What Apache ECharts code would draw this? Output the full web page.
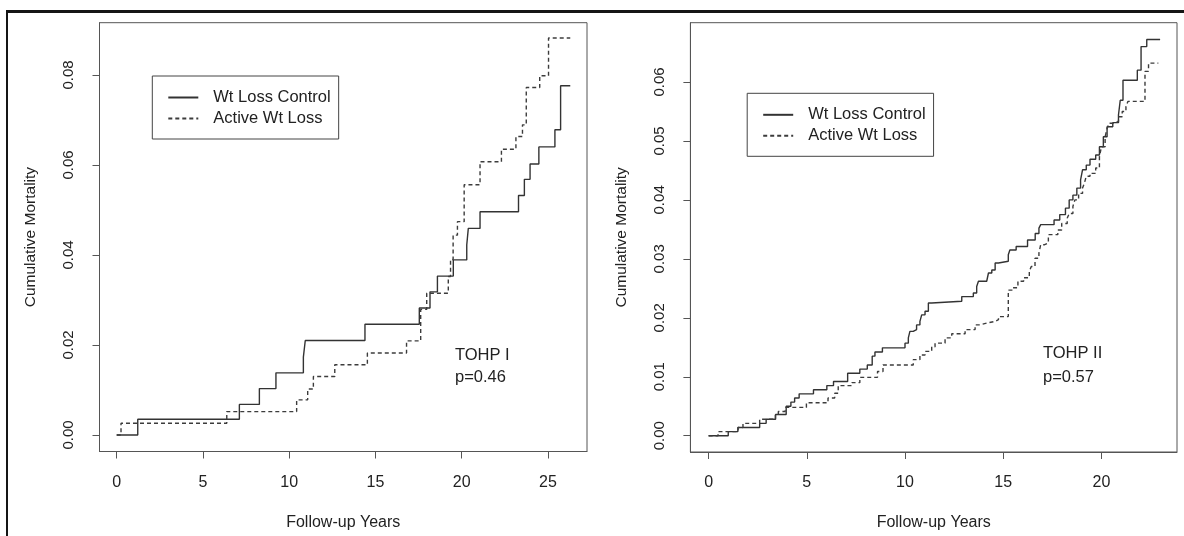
<!DOCTYPE html>
<html>
<head>
<meta charset="UTF-8">
<title>TOHP cumulative mortality</title>
<style>
body{margin:0;background:#fff;}
#main{position:absolute;left:0;top:0;width:1184px;height:536px;}
#frame{position:absolute;left:6px;top:10px;width:1178px;height:526px;box-sizing:border-box;
  border-top:3px solid #151515;border-left:2px solid #151515;pointer-events:none;}
</style>
</head>
<body>
<div id="main"></div>
<div id="frame"></div>
<script src="https://cdn.jsdelivr.net/npm/echarts@6/dist/echarts.min.js"></script>
<script>
// TOHP I  [follow-up year, cumulative mortality]
var tohp1Control = [[0,0],[1.22,0.0035],[7.11,0.0068],[8.27,0.0103],[9.23,0.0138],[10.82,0.0173],[10.93,0.021],
  [14.39,0.0246],[17.54,0.0282],[18.16,0.0318],[18.59,0.0353],[19.51,0.0389],[20.29,0.0422],[20.38,0.0459],
  [21.06,0.0496],[23.29,0.0532],[23.63,0.0568],[23.96,0.0602],[24.47,0.064],[25.4,0.0678],[25.73,0.0776],[26.29,0.0776]];
var tohp1Active = [[0,0],[0.25,0.0026],[6.38,0.0052],[10.43,0.0078],[11.07,0.0102],[11.4,0.013],[12.64,0.0156],
  [14.53,0.0182],[16.8,0.0209],[17.62,0.0279],[17.97,0.0315],[19.22,0.0352],[19.35,0.039],[19.5,0.0444],
  [19.75,0.0474],[20.14,0.0556],[21.06,0.0607],[22.3,0.0635],[23.14,0.0663],[23.52,0.0689],[23.74,0.0772],
  [24.52,0.0798],[25.03,0.0882],[26.29,0.0882]];

// TOHP II
var tohp2Control = [[0,0],[1.0,0.0007],[1.49,0.0014],[2.6,0.0021],[2.93,0.0028],[3.41,0.0036],[3.95,0.005],
  [4.19,0.0057],[4.38,0.0064],[4.61,0.0071],[5.34,0.0078],[6.02,0.0085],[6.36,0.0092],[7.08,0.0106],[7.7,0.0113],
  [8.08,0.012],[8.33,0.0135],[8.47,0.0142],[8.85,0.0149],[10.0,0.0157],[10.17,0.0166],[10.25,0.0177],[10.42,0.018],
  [10.59,0.0188],[10.76,0.0194],[10.85,0.0205],[11.02,0.0211],[11.19,0.0225],[11.36,0.0228],[12.89,0.0236],
  [13.48,0.0242],[13.65,0.0253],[13.74,0.0262],[14.16,0.0264],[14.25,0.0276],[14.42,0.0281],[14.59,0.0293],
  [14.76,0.0296],[15.26,0.0307],[15.34,0.0315],[15.66,0.0321],[16.24,0.0332],[16.63,0.0343],[16.82,0.0352],
  [16.91,0.0358],[17.59,0.0366],[17.88,0.0375],[18.17,0.0386],[18.36,0.04],[18.55,0.0408],[18.75,0.042],
  [18.94,0.0434],[19.04,0.0451],[19.23,0.0459],[19.42,0.0469],[19.71,0.0476],[19.9,0.049],[20.1,0.0507],
  [20.29,0.0524],[20.58,0.0531],[20.87,0.0544],[20.96,0.0569],[21.1,0.0603],[21.83,0.062],[22.02,0.066],
  [22.31,0.0672],[22.99,0.0672]];
var tohp2Active = [[0,0],[0.48,0.0007],[1.5,0.0014],[1.75,0.0021],[2.6,0.0028],[3.4,0.0035],[3.55,0.0041],
  [3.9,0.0048],[4.98,0.0056],[6.08,0.0064],[6.42,0.0072],[6.6,0.0085],[7.3,0.009],[7.7,0.0099],[8.6,0.0109],
  [8.88,0.012],[10.42,0.0129],[10.76,0.0137],[11.02,0.0143],[11.36,0.0151],[11.53,0.0157],[12.04,0.0166],
  [12.38,0.0173],[13.06,0.018],[13.57,0.0188],[13.82,0.0191],[14.16,0.0194],[14.59,0.0197],[14.76,0.0202],
  [15.26,0.0247],[15.47,0.0251],[15.75,0.0262],[16.04,0.0268],[16.33,0.0279],[16.43,0.0287],[16.62,0.0301],
  [16.82,0.031],[16.91,0.0324],[17.11,0.0327],[17.3,0.0341],[17.78,0.0349],[17.98,0.036],[18.26,0.0369],
  [18.36,0.0377],[18.55,0.0389],[18.65,0.04],[18.84,0.0411],[19.04,0.042],[19.13,0.0428],[19.23,0.044],
  [19.42,0.0445],[19.71,0.0454],[19.9,0.0473],[20.0,0.049],[20.19,0.0507],[20.29,0.0521],[20.39,0.053],
  [20.68,0.0533],[20.87,0.0541],[21.06,0.055],[21.25,0.0558],[21.35,0.0567],[22.22,0.0618],[22.4,0.0632],
  [22.9,0.0632]];

var xTicks1 = [0,5,10,15,20,25];
var yTicks1 = [0,0.02,0.04,0.06,0.08];
var xTicks2 = [0,5,10,15,20];
var yTicks2 = [0,0.01,0.02,0.03,0.04,0.05,0.06];
var names = ['Wt Loss Control','Active Wt Loss'];
var notes1 = ['TOHP I','p=0.46'];
var notes2 = ['TOHP II','p=0.57'];

var FONT = '"Liberation Sans", Arial, Helvetica, sans-serif';
var INK = '#222';
var AXC = '#555';

function xAxisOf(grid, min, max, ticks){
  return {
    gridIndex:grid, type:'value', min:min, max:max,
    axisLine:{show:true, onZero:false, lineStyle:{color:AXC, width:1}},
    axisTick:{show:true, length:7, customValues:ticks, lineStyle:{color:AXC}},
    axisLabel:{customValues:ticks, margin:23, fontSize:16, color:INK, fontFamily:FONT},
    splitLine:{show:false},
    name:'Follow-up Years', nameLocation:'middle', nameGap:63,
    nameTextStyle:{fontSize:16, color:INK, fontFamily:FONT}
  };
}
function yAxisOf(grid, min, max, ticks){
  return {
    gridIndex:grid, type:'value', min:min, max:max,
    axisLine:{show:true, onZero:false, lineStyle:{color:AXC, width:1}},
    axisTick:{show:true, length:7, customValues:ticks, lineStyle:{color:AXC}},
    axisLabel:{customValues:ticks, rotate:90, margin:23, fontSize:15, color:INK, fontFamily:FONT,
      formatter:function(v){ return v.toFixed(2); }},
    splitLine:{show:false},
    name:'Cumulative Mortality', nameLocation:'middle', nameRotate:90, nameGap:61,
    nameTextStyle:{fontSize:15.5, color:INK, fontFamily:FONT}
  };
}
function km(name, idx, data, dashed){
  var col = dashed ? '#3c3c3c' : '#333';
  return {
    name:name, type:'line', xAxisIndex:idx, yAxisIndex:idx, data:data,
    step:'end', symbol:'none', showSymbol:false, silent:true,
    itemStyle:{color:col},
    lineStyle:{color:col, width:1.4, type: dashed ? [4,3] : 'solid'},
    emphasis:{disabled:true}
  };
}
function legendAt(left, top){
  return {
    orient:'vertical', left:left, top:top, data:names, selectedMode:false,
    itemWidth:30, itemHeight:14, itemGap:4,
    itemStyle:{opacity:0},
    padding:[13,8,12,15], borderColor:'#444', borderWidth:1, borderRadius:0,
    textStyle:{fontFamily:FONT, fontSize:16.5, color:INK, lineHeight:16, padding:[0,0,0,10]}
  };
}
function noteText(x, y, txt){
  return {type:'text', x:x, y:y, silent:true,
    style:{text:txt, font:'16.5px ' + FONT, fill:INK, verticalAlign:'middle'}};
}

var chart = echarts.init(document.getElementById('main'));
chart.setOption({
  animation:false,
  backgroundColor:'#fff',
  grid:[
    {left:99.5, top:22.7, width:487.5, height:428.8, show:true, borderColor:AXC, borderWidth:1},
    {left:690.4, top:22.7, width:486.6, height:429.6, show:true, borderColor:AXC, borderWidth:1}
  ],
  xAxis:[xAxisOf(0, -0.997, 27.26, xTicks1), xAxisOf(1, -0.927, 23.85, xTicks2)],
  yAxis:[yAxisOf(0, -0.00367, 0.0916, yTicks1), yAxisOf(1, -0.00276, 0.07005, yTicks2)],
  legend:[legendAt(152.3, 76), legendAt(747.2, 93.3)],
  series:[
    km(names[0], 0, tohp1Control, false),
    km(names[1], 0, tohp1Active, true),
    km(names[0], 1, tohp2Control, false),
    km(names[1], 1, tohp2Active, true)
  ],
  graphic:[
    noteText(455, 355, notes1[0]), noteText(455, 377, notes1[1]),
    noteText(1043, 353, notes2[0]), noteText(1043, 377, notes2[1])
  ]
});
</script>
</body>
</html>
